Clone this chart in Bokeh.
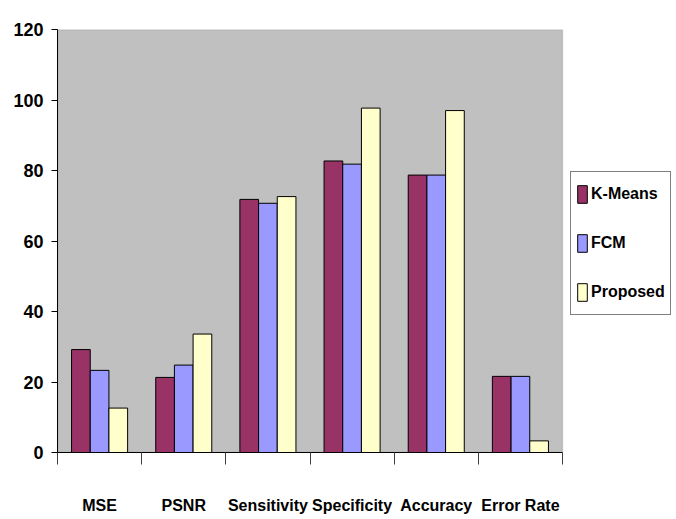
from bokeh.plotting import figure
from bokeh.models import ColumnDataSource, Range1d, FixedTicker, Legend, LegendItem, BoxAnnotation
from bokeh.transform import dodge
from bokeh.embed import file_html
from bokeh.resources import INLINE

categories = ["MSE", "PSNR", "Sensitivity", "Specificity", "Accuracy", "Error Rate"]
kmeans = [29.2, 21.3, 71.8, 82.7, 78.7, 21.6]
fcm = [23.3, 24.8, 70.7, 81.8, 78.7, 21.6]
proposed = [12.6, 33.6, 72.6, 97.7, 97.0, 3.3]
series_names = ["K-Means", "FCM", "Proposed"]
series_colors = ["#993366", "#9999FF", "#FFFFCC"]
y_ticks = [0, 20, 40, 60, 80, 100, 120]

FONT = "Liberation Sans"
n = len(categories)
centers = [i + 0.5 for i in range(n)]
source = ColumnDataSource(dict(x=centers, kmeans=kmeans, fcm=fcm, proposed=proposed))

# frame spans plot area + legend column; plot area covers x in [0, n]
frame_w, plot_w = 619, 505
p = figure(width=676, height=519, output_backend="svg", toolbar_location=None,
           x_range=Range1d(0, n * frame_w / plot_w), y_range=Range1d(0, 120),
           min_border_left=57, min_border_right=0, min_border_top=29, min_border_bottom=67)

p.background_fill_color = "white"
p.border_fill_color = "white"
p.outline_line_color = None
p.xgrid.visible = False
p.ygrid.visible = False

p.add_layout(BoxAnnotation(left=0, right=n, bottom=0, top=120, fill_color="#C0C0C0", fill_alpha=1,
                           line_color="#808080", line_width=1.5, level="underlay"))

bw = 0.222
renderers = []
for key, off, color in zip(["kmeans", "fcm", "proposed"], [-bw, 0, bw], series_colors):
    r = p.vbar(x=dodge("x", off, range=p.x_range), top=key, width=bw, bottom=0,
               source=source, fill_color=color, line_color="black", line_width=1)
    renderers.append(r)

# y axis
p.yaxis.ticker = FixedTicker(ticks=y_ticks)
p.yaxis.major_tick_out = 6
p.yaxis.major_tick_in = 0
p.yaxis.minor_tick_out = 0
p.yaxis.minor_tick_in = 0
p.yaxis.axis_line_color = "black"
p.yaxis.major_tick_line_color = "black"
p.yaxis.major_label_standoff = 8
p.yaxis.major_label_text_font = FONT
p.yaxis.major_label_text_font_style = "bold"
p.yaxis.major_label_text_font_size = "18px"
p.yaxis.major_label_text_color = "black"

# x axis: labels at centers, tick marks at category boundaries
p.xaxis.bounds = (0, n)
p.xaxis.ticker = FixedTicker(ticks=centers, minor_ticks=list(range(n + 1)))
p.xaxis.major_label_overrides = {c: name for c, name in zip(centers, categories)}
p.xaxis.major_tick_out = 0
p.xaxis.major_tick_in = 0
p.xaxis.minor_tick_out = 12
p.xaxis.minor_tick_in = 0
p.xaxis.minor_tick_line_color = "#404040"
p.xaxis.axis_line_color = "black"
p.xaxis.major_label_standoff = 32
p.xaxis.major_label_text_font = FONT
p.xaxis.major_label_text_font_style = "bold"
p.xaxis.major_label_text_font_size = "16px"
p.xaxis.major_label_text_color = "black"

legend = Legend(items=[LegendItem(label=name, renderers=[r]) for name, r in zip(series_names, renderers)],
                location=(513, 137), orientation="vertical")
legend.background_fill_color = "white"
legend.background_fill_alpha = 1
legend.border_line_color = "black"
legend.border_line_width = 1
legend.padding = 5
legend.margin = 0
legend.spacing = 15
legend.glyph_width = 12
legend.glyph_height = 22
legend.label_height = 34
legend.label_standoff = 3
legend.label_text_font = FONT
legend.label_text_font_style = "bold"
legend.label_text_font_size = "16px"
legend.label_text_color = "black"
p.add_layout(legend, "center")

open("out.html", "w").write(file_html(p, INLINE))
